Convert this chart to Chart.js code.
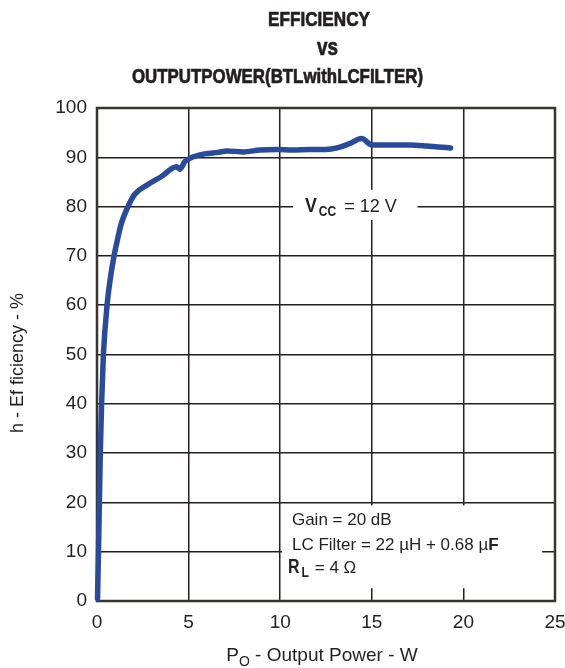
<!DOCTYPE html>
<html lang="en">
<head>
  <meta charset="UTF-8">
  <title>Efficiency vs Output Power (BTL with LC filter)</title>
  <script src="https://cdn.jsdelivr.net/npm/chart.js"></script>
  <style>
    body { margin: 0; background: #fff; }
    #wrap { width: 565px; height: 668px; position: relative; }
  </style>
</head>
<body>
  <div id="wrap"><canvas id="effChart"></canvas></div>

  <script>
    // values
    const outputPower = [0.03, 0.08, 0.13, 0.18, 0.25, 0.35, 0.55, 0.75, 0.93, 1.1, 1.33, 1.69, 2.06, 2.79, 3.52,
      4.34, 4.52, 4.79, 5.07, 5.89, 6.6, 7.1, 8.0, 8.9, 9.8, 10.7, 11.6, 12.5, 13.1, 13.8, 14.45,
      15.0, 16.2, 17.1, 18.0, 18.6, 19.3];
    const efficiency = [0.5, 10, 20, 30, 40, 50, 60, 66, 70, 73, 76.6, 80, 82.5, 84.5, 86.1,
      88.1, 87.6, 89.1, 89.8, 90.7, 91.0, 91.3, 91.1, 91.5, 91.6, 91.5, 91.6, 91.6, 91.9, 92.8, 93.8,
      92.5, 92.5, 92.5, 92.3, 92.1, 91.9];
    const xTicks = [0, 5, 10, 15, 20, 25];
    const yTicks = [0, 10, 20, 30, 40, 50, 60, 70, 80, 90, 100];
    const titleLines = ['EFFICIENCY', 'vs', 'OUTPUTPOWER(BTLwithLCFILTER)'];

    const SANS = '"Liberation Sans", Arial, Helvetica, sans-serif';
    const INK = '#231f20';
    const CURVE = '#2a4b9c';

    // text squeezed to a fixed width, gives the condensed heavy look of the original
    function fitText(ctx, text, cx, y, width, font) {
      ctx.save();
      ctx.font = font;
      const w = ctx.measureText(text).width;
      ctx.translate(cx, y);
      ctx.scale(width / w, 1);
      ctx.textAlign = 'center';
      ctx.strokeStyle = INK;
      ctx.lineWidth = 0.7;
      ctx.fillText(text, 0, 0);
      ctx.strokeText(text, 0, 0);
      ctx.restore();
    }

    // draws left aligned text, optional horizontal squeeze, returns the advance
    function put(ctx, text, x, y, font, squeeze = 1) {
      ctx.save();
      ctx.font = font;
      ctx.textAlign = 'left';
      ctx.translate(x, y);
      ctx.scale(squeeze, 1);
      ctx.fillText(text, 0, 0);
      const w = ctx.measureText(text).width * squeeze;
      ctx.restore();
      return w;
    }

    const framePlugin = {
      id: 'frame',
      beforeDatasetsDraw(chart) {
        const { ctx, chartArea: a, scales: { x, y } } = chart;
        ctx.save();
        // white patches under the two labels
        ctx.fillStyle = '#fff';
        let l = x.getPixelForValue(10.7), r = x.getPixelForValue(17.5);
        let t = y.getPixelForValue(83.4), b = y.getPixelForValue(77.3);
        ctx.fillRect(l, t, r - l, b - t);
        l = x.getPixelForValue(10.1); r = x.getPixelForValue(24.3);
        t = y.getPixelForValue(19.4); b = y.getPixelForValue(2.6);
        ctx.fillRect(l, t, r - l, b - t);
        // plot frame
        ctx.strokeStyle = '#3a3431';
        ctx.lineWidth = 2.5;
        ctx.strokeRect(a.left, a.top, a.right - a.left, a.bottom - a.top);
        ctx.restore();
      }
    };

    const textPlugin = {
      id: 'texts',
      afterDraw(chart) {
        const { ctx, scales: { x, y } } = chart;
        ctx.save();
        ctx.fillStyle = INK;
        ctx.textBaseline = 'alphabetic';

        // title
        fitText(ctx, titleLines[0], 319, 26, 102, 'bold 20px ' + SANS);
        fitText(ctx, titleLines[1], 327.5, 55, 21, 'bold 24px ' + SANS);
        fitText(ctx, titleLines[2], 277.5, 83, 291, 'bold 20px ' + SANS);

        // y axis title
        ctx.save();
        ctx.translate(18, 363);
        ctx.rotate(-Math.PI / 2);
        ctx.font = '18px ' + SANS;
        ctx.textAlign = 'center';
        ctx.textBaseline = 'middle';
        ctx.fillText('h - Ef ficiency - %', 0, 0);
        ctx.restore();

        // x axis title with subscript
        ctx.font = '19px ' + SANS;
        const rest = ' - Output Power - W';
        const wP = ctx.measureText('P').width;
        const wRest = ctx.measureText(rest).width;
        ctx.font = '14px ' + SANS;
        const wO = ctx.measureText('O').width;
        let px = 322 - (wP + wO + wRest) / 2;
        const base = 661;
        px += put(ctx, 'P', px, base, '19px ' + SANS);
        px += put(ctx, 'O', px, base + 5, '14px ' + SANS);
        put(ctx, rest, px, base, '19px ' + SANS);

        // VCC label
        let vx = x.getPixelForValue(11.35);
        const vy = y.getPixelForValue(79.0);
        vx += put(ctx, 'V', vx, vy, 'bold 21px ' + SANS, 0.85) + 2;
        vx += put(ctx, 'CC', vx, vy + 4, 'bold 15px ' + SANS, 0.8) + 8;
        put(ctx, '= 12 V', vx, vy, '18px ' + SANS);

        // conditions box
        const gx = x.getPixelForValue(10.64);
        put(ctx, 'Gain = 20 dB', gx, y.getPixelForValue(15.4), '17px ' + SANS);
        const ly = y.getPixelForValue(10.3);
        const lw = put(ctx, 'LC Filter = 22 \u00b5H + 0.68 \u00b5', gx, ly, '17px ' + SANS);
        put(ctx, 'F', gx + lw, ly, 'bold 17px ' + SANS);
        const ry = y.getPixelForValue(5.6);
        let rx = x.getPixelForValue(10.42);
        rx += put(ctx, 'R', rx, ry, 'bold 20px ' + SANS, 0.8) + 2;
        rx += put(ctx, 'L', rx, ry + 4, 'bold 15px ' + SANS, 0.8) + 6;
        put(ctx, '= 4 \u03a9', rx, ry, '17px ' + SANS);

        ctx.restore();
      }
    };

    const points = outputPower.map((p, i) => ({ x: p, y: efficiency[i] }));

    new Chart(document.getElementById('effChart'), {
      type: 'line',
      data: {
        datasets: [{
          data: points,
          borderColor: CURVE,
          borderWidth: 5.5,
          pointRadius: 0,
          fill: false,
          cubicInterpolationMode: 'monotone',
          borderCapStyle: 'round',
          borderJoinStyle: 'round',
          clip: false
        }]
      },
      options: {
        responsive: true,
        maintainAspectRatio: false,
        animation: false,
        layout: { padding: { top: 108, right: 10, left: 0, bottom: 0 } },
        plugins: {
          legend: { display: false },
          tooltip: { enabled: false },
          title: { display: false }
        },
        scales: {
          x: {
            type: 'linear',
            min: xTicks[0],
            max: xTicks[xTicks.length - 1],
            afterBuildTicks: s => { s.ticks = xTicks.map(v => ({ value: v })); },
            afterFit: s => { s.height = 67; s.paddingLeft = 0; s.paddingRight = 0; },
            grid: { color: INK, lineWidth: 1.5, drawTicks: false },
            border: { display: false },
            ticks: { color: INK, padding: 10, font: { family: SANS, size: 19 } }
          },
          y: {
            type: 'linear',
            min: yTicks[0],
            max: yTicks[yTicks.length - 1],
            afterBuildTicks: s => { s.ticks = yTicks.map(v => ({ value: v })); },
            afterFit: s => { s.width = 97; s.paddingTop = 0; s.paddingBottom = 0; },
            grid: { color: INK, lineWidth: 1.5, drawTicks: false },
            border: { display: false },
            ticks: { color: INK, padding: 10, font: { family: SANS, size: 19 } }
          }
        }
      },
      plugins: [framePlugin, textPlugin]
    });
  </script>
</body>
</html>
